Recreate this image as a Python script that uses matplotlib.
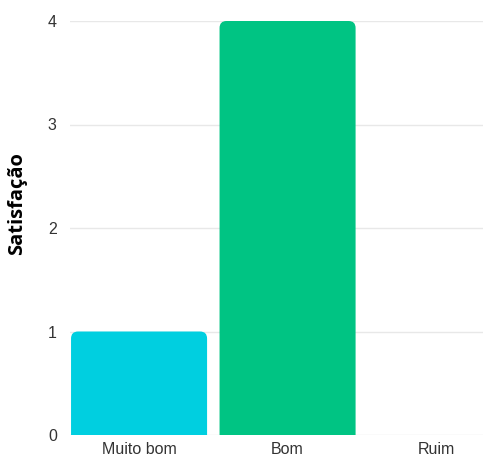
import matplotlib
matplotlib.use('Agg')
import matplotlib.pyplot as plt
from matplotlib.patches import FancyBboxPatch

categorias = ['Muito bom', 'Bom', 'Ruim']
valores = [1, 4, 0]
cores = ['#00cfe0', '#00c483', '#a0a0ff']

plt.rcParams['font.family'] = ['Liberation Sans', 'DejaVu Sans']

fig = plt.figure(figsize=(4.83, 4.57), dpi=100)
ax = fig.add_axes([70 / 483, 22 / 457, 413 / 483, 414 / 457])

ax.set_xlim(-0.465, 2.316)
ax.set_ylim(0, 4)

# grade horizontal clara atrás das barras
for y in range(5):
    ax.axhline(y, color='#e8e8e8', linewidth=1, zorder=0)

# barras com cantos superiores arredondados
largura = 0.916
px_x = (2.316 + 0.465) / 413
px_y = 4 / 414
raio = 7 * px_x
for i, (v, c) in enumerate(zip(valores, cores)):
    if v <= 0:
        continue
    caixa = FancyBboxPatch((i - largura / 2, -0.2), largura, v + 0.2,
                           boxstyle=f'round,pad=0,rounding_size={raio}',
                           mutation_aspect=px_y / px_x,
                           facecolor=c, edgecolor='none', zorder=2)
    ax.add_patch(caixa)

ax.set_xticks(range(len(categorias)))
ax.set_xticklabels(categorias)
ax.set_yticks(range(5))
ax.tick_params(axis='both', length=0, labelsize=11.5, colors='#333333')
ax.tick_params(axis='y', pad=9.5)
ax.tick_params(axis='x', pad=5)
for lado in ax.spines.values():
    lado.set_visible(False)

ax.set_ylabel('Satisfação', fontsize=14.5, fontweight='bold',
              family=['Open Sans', 'DejaVu Sans'])
ax.yaxis.set_label_coords(-0.104, 0.558)

fig.savefig('out.png', dpi=100)
